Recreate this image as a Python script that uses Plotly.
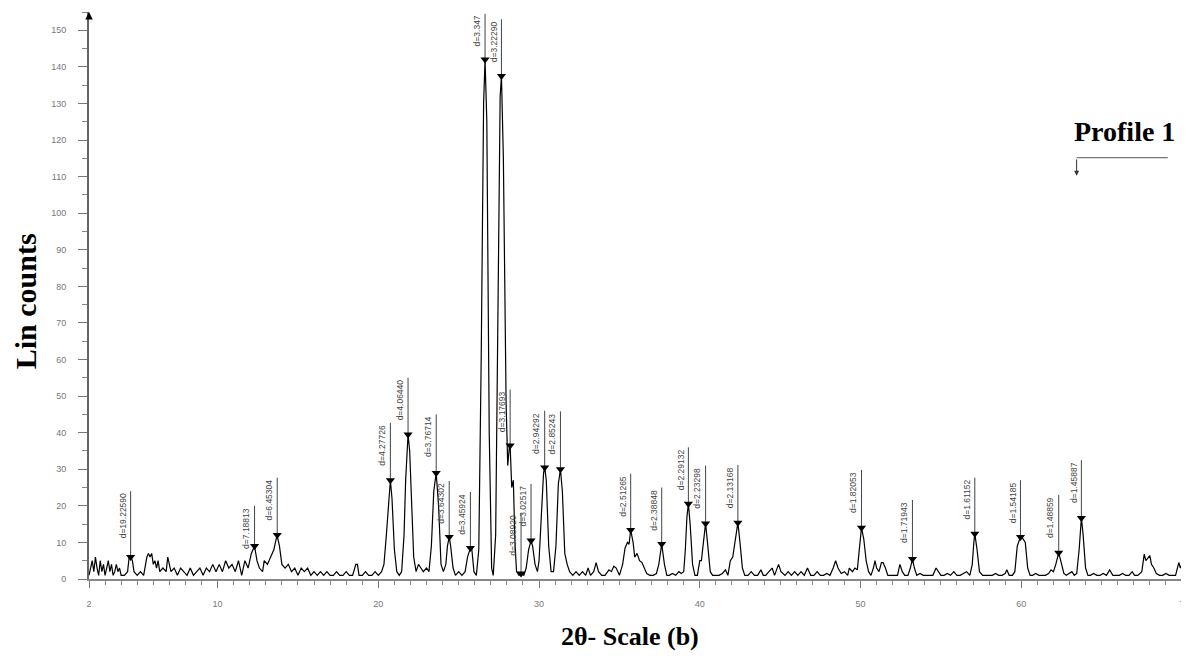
import plotly.graph_objects as go

# ---- diffraction trace (2-theta, counts) ----
two_theta = [
    2.0, 2.1, 2.2, 2.3, 2.4, 2.5, 2.6, 2.7, 2.8, 2.9, 3.0, 3.1, 3.2, 3.3, 3.4, 3.5, 3.6, 3.7, 3.8, 3.9,
    4.0, 4.2, 4.4, 4.5, 4.6, 4.7, 4.8, 5.0, 5.2, 5.4, 5.6, 5.7, 5.8, 5.9, 6.0, 6.1, 6.2, 6.3, 6.4, 6.6,
    6.8, 6.9, 7.0, 7.1, 7.3, 7.5, 7.7, 7.9, 8.1, 8.3, 8.5, 8.7, 8.9, 9.1, 9.3, 9.5, 9.7, 9.9, 10.1, 10.3,
    10.5, 10.7, 10.9, 11.1, 11.3, 11.5, 11.7, 11.9, 12.0, 12.1, 12.3, 12.45, 12.6, 12.8, 12.9, 13.1, 13.3, 13.5, 13.7, 13.85,
    14.0, 14.2, 14.4, 14.6, 14.8, 15.0, 15.2, 15.4, 15.6, 15.8, 16.0, 16.2, 16.4, 16.6, 16.8, 17.0, 17.2, 17.4, 17.6, 17.8,
    18.0, 18.2, 18.4, 18.6, 18.7, 18.8, 19.0, 19.2, 19.4, 19.6, 19.8, 20.0, 20.2, 20.35, 20.5, 20.65, 20.75, 20.85, 21.0, 21.15,
    21.3, 21.45, 21.6, 21.7, 21.8, 21.85, 21.95, 22.05, 22.2, 22.35, 22.5, 22.65, 22.8, 23.0, 23.15, 23.3, 23.45, 23.6, 23.75, 23.9,
    24.05, 24.2, 24.3, 24.41, 24.5, 24.65, 24.8, 25.0, 25.2, 25.4, 25.55, 25.73, 25.82, 25.95, 26.1, 26.25, 26.4, 26.55, 26.64, 26.75,
    26.9, 27.05, 27.15, 27.3, 27.45, 27.58, 27.66, 27.78, 27.95, 28.05, 28.15, 28.2, 28.3, 28.4, 28.5, 28.6, 28.75, 28.88, 29.05, 29.2,
    29.35, 29.5, 29.6, 29.75, 29.9, 30.0, 30.15, 30.28, 30.35, 30.45, 30.6, 30.75, 30.9, 31.05, 31.2, 31.33, 31.45, 31.6, 31.75, 31.9,
    32.1, 32.3, 32.5, 32.7, 32.9, 33.05, 33.2, 33.4, 33.55, 33.7, 33.9, 34.1, 34.35, 34.5, 34.65, 34.8, 35.0, 35.2, 35.35, 35.5,
    35.6, 35.7, 35.85, 35.95, 36.1, 36.25, 36.4, 36.55, 36.7, 36.9, 37.1, 37.3, 37.45, 37.63, 37.8, 37.95, 38.1, 38.3, 38.5, 38.7,
    38.85, 39.0, 39.1, 39.2, 39.29, 39.4, 39.55, 39.7, 39.85, 40.0, 40.1, 40.2, 40.3, 40.36, 40.5, 40.65, 40.8, 41.0, 41.2, 41.4,
    41.6, 41.75, 41.9, 42.05, 42.2, 42.37, 42.5, 42.65, 42.8, 43.0, 43.2, 43.4, 43.6, 43.8, 43.95, 44.1, 44.3, 44.5, 44.65, 44.9,
    45.05, 45.3, 45.5, 45.7, 45.9, 46.1, 46.3, 46.5, 46.7, 46.9, 47.1, 47.3, 47.5, 47.7, 47.9, 48.1, 48.3, 48.45, 48.6, 48.8,
    49.0, 49.2, 49.3, 49.5, 49.65, 49.8, 49.9, 50.0, 50.06, 50.2, 50.35, 50.5, 50.65, 50.8, 50.9, 51.0, 51.15, 51.3, 51.4, 51.55,
    51.7, 51.9, 52.1, 52.3, 52.45, 52.6, 52.75, 52.95, 53.1, 53.23, 53.35, 53.5, 53.7, 53.9, 54.1, 54.3, 54.5, 54.7, 54.85, 55.0,
    55.2, 55.4, 55.6, 55.8, 56.0, 56.2, 56.4, 56.6, 56.8, 56.95, 57.05, 57.11, 57.25, 57.4, 57.6, 57.8, 58.0, 58.2, 58.4, 58.6,
    58.8, 59.0, 59.1, 59.25, 59.45, 59.6, 59.75, 59.85, 59.95, 60.1, 60.25, 60.4, 60.55, 60.7, 60.9, 61.1, 61.3, 61.5, 61.7, 61.85,
    62.0, 62.15, 62.33, 62.5, 62.65, 62.8, 63.0, 63.15, 63.3, 63.45, 63.6, 63.74, 63.85, 64.0, 64.15, 64.3, 64.5, 64.7, 64.9, 65.1,
    65.3, 65.5, 65.7, 65.9, 66.1, 66.3, 66.5, 66.7, 66.9, 67.05, 67.25, 67.5, 67.65, 67.75, 67.85, 68.0, 68.1, 68.25, 68.4, 68.6,
    68.8, 69.0, 69.2, 69.4, 69.6, 69.8, 69.9, 70.0,
]
counts = [
    1, 3, 5, 2, 6, 3, 1, 5, 2, 4, 1, 3, 5, 2, 4, 1, 2, 4, 2, 3,
    1, 1, 2, 6, 6, 5, 2, 1, 2, 1, 6, 7, 6, 7, 4, 5, 3, 5, 2, 3,
    2, 6, 4, 2, 3, 1, 3, 2, 1, 3, 1, 2, 3, 1, 3, 2, 4, 2, 4, 2,
    5, 3, 4, 2, 5, 1, 5, 3, 5, 7, 9, 5, 3, 2, 5, 4, 6, 8, 12, 9,
    4, 3, 4, 2, 3, 1, 3, 2, 3, 1, 2, 1, 2, 1, 2, 1, 1, 2, 1, 1,
    2, 1, 1, 4, 4, 1, 1, 2, 1, 1, 2, 1, 2, 4, 12, 23, 27, 22, 8, 2,
    1, 2, 12, 27, 37, 39.5, 35, 24, 6, 2, 4, 3, 2, 3, 2, 9, 24, 29, 20, 4,
    2, 4, 9, 11.5, 9, 3, 1, 2, 1, 2, 6, 8.5, 8, 2, 1, 8, 60, 130, 142, 125,
    40, 3, 1, 12, 70, 132, 137.5, 115, 48, 31, 36, 36.5, 25, 27, 10, 2, 1, 1.5, 1, 3,
    8, 10.5, 9, 4, 2, 5, 18, 29, 30.5, 27, 9, 2, 2, 9, 26, 30, 24, 7, 4, 2,
    1, 2, 1, 2, 1, 3, 1, 2, 4.5, 2, 1, 1, 2.5, 2, 3.5, 3, 1, 4, 8.5, 10,
    9.5, 13.4, 10, 6, 7, 5, 4.5, 3, 1.5, 1, 1, 1.5, 4, 9.6, 4, 1, 1, 1.5, 1, 2,
    1.5, 2, 8, 17, 20.6, 15, 4, 1, 1, 5, 5, 9, 14, 15.2, 9, 2, 1, 1, 1, 1.5,
    2.5, 1, 5, 6, 10, 15.4, 10, 3, 1, 1, 2, 1, 1, 2.5, 1, 1, 2, 3, 1, 4,
    2, 1, 2, 1, 2, 1, 2, 1, 3, 1, 1, 2, 1, 1, 1.5, 1, 3, 5, 3, 1.5,
    2, 1, 3, 2, 3, 2.5, 7, 12, 14, 11, 5, 2, 1, 3, 5, 3, 2, 4.5, 4.5, 3,
    1, 1, 1, 1, 4, 2, 1, 1, 3, 5.5, 3, 1, 1.5, 1, 1, 1, 1, 3, 2, 1,
    1, 1.5, 1, 2, 1, 1, 1.5, 2, 1, 4, 10, 12.4, 8, 2, 1, 1, 1, 1, 1.5, 1,
    1, 1.5, 2.5, 1, 1, 2, 9, 10, 11.5, 11, 10, 3, 1, 1, 1.5, 1, 1, 1, 1.5, 2.5,
    2, 4, 7.2, 4, 1.5, 1, 1.5, 2, 1, 1.5, 8, 16.7, 12, 3, 1, 1, 1.5, 1, 1, 1.5,
    1, 2.5, 1, 1, 1, 1.5, 1, 1, 2, 1, 1, 2, 6.8, 5, 5.5, 6.4, 4, 3, 1.5, 1,
    1, 1.5, 1, 1, 1, 4.5, 3, 4,
]

# ---- labelled peaks ----
peak_two_theta = [4.59, 12.30, 13.71, 20.75, 21.85, 23.60, 24.41, 25.73, 26.64, 27.66, 28.20, 28.88, 29.50,
                  30.35, 31.33, 35.70, 37.63, 39.29, 40.36, 42.37, 50.06, 53.23, 57.11, 59.95, 62.33, 63.74]
peak_counts = [6, 9, 12, 27, 39.5, 29, 11.5, 8.5, 142, 137.5, 36.5, 1.5, 10.5,
               30.5, 30, 13.4, 9.6, 20.6, 15.2, 15.4, 14, 5.5, 12.4, 11.5, 7.2, 16.7]
label_top = [24, 20, 27.7, 42.7, 55, 45, 26.8, 23.8, 154.5, 153, 51.8, 18, 26,
             46, 45.8, 28.8, 25, 36, 31, 31.2, 29.8, 21.6, 27.7, 27, 23, 32.5]
peak_labels = ["d=19.22590", "d=7.18813", "d=6.45304", "d=4.27726", "d=4.06440", "d=3.76714",
               "d=3.64302", "d=3.45924", "d=3.347", "d=3.22290", "d=3.17693", "d=3.08920",
               "d=3.02517", "d=2.94292", "d=2.85243", "d=2.51265", "d=2.38848", "d=2.29132",
               "d=2.23298", "d=2.13168", "d=1.82053", "d=1.71943", "d=1.61152", "d=1.54185",
               "d=1.48859", "d=1.45887"]

x_tick_vals = [2, 10, 20, 30, 40, 50, 60, 70]
x_tick_text = ["2", "10", "20", "30", "40", "50", "60", "7"]
y_tick_vals = list(range(0, 151, 10))

SERIF = "Liberation Serif, Times New Roman, serif"
SANS = "Liberation Sans, Arial, sans-serif"

fig = go.Figure()

# vertical label lines
lx, ly = [], []
for xv, yv, tv in zip(peak_two_theta, peak_counts, label_top):
    lx += [xv, xv, None]
    ly += [yv, tv, None]
fig.add_trace(go.Scatter(x=lx, y=ly, mode="lines", line=dict(color="#444", width=1),
                         hoverinfo="skip", showlegend=False, cliponaxis=False))

fig.add_trace(go.Scatter(x=two_theta, y=counts, mode="lines",
                         line=dict(color="black", width=1.2), showlegend=False))

fig.add_trace(go.Scatter(x=peak_two_theta, y=peak_counts, mode="markers",
                         marker=dict(symbol="triangle-down", size=8, color="black"),
                         showlegend=False, cliponaxis=False))

for xv, tv, txt in zip(peak_two_theta, label_top, peak_labels):
    fig.add_annotation(x=xv, y=tv, text=txt, textangle=-90, showarrow=False,
                       xanchor="right", yanchor="top", xshift=-1,
                       font=dict(family=SANS, size=8.5, color="#444"))

# titles and note
fig.add_annotation(xref="paper", yref="paper", x=-0.0585, y=0.49, text="Lin counts",
                   textangle=-90, showarrow=False, xanchor="center", yanchor="middle",
                   font=dict(family=SERIF, size=30, color="black", weight="bold"))
fig.add_annotation(xref="paper", yref="paper", x=0.495, y=-0.102, text="2θ- Scale (b)",
                   showarrow=False, xanchor="center", yanchor="middle",
                   font=dict(family=SERIF, size=26, color="black", weight="bold"))
fig.add_annotation(xref="paper", yref="paper", x=0.9475, y=0.79, text="Profile 1",
                   showarrow=False, xanchor="center", yanchor="middle",
                   font=dict(family=SERIF, size=28, color="black", weight="bold"))
fig.add_shape(type="line", xref="paper", yref="paper", x0=0.9036, x1=0.987, y0=0.743, y1=0.743,
              line=dict(color="#555", width=1))
fig.add_annotation(xref="paper", yref="paper", x=0.9036, y=0.711, ax=0, ay=-18, text="",
                   showarrow=True, arrowhead=2, arrowsize=1, arrowwidth=1, arrowcolor="#333")
# y axis arrow head
fig.add_annotation(xref="paper", yref="paper", x=0, y=1, ax=0, ay=8, text="",
                   showarrow=True, arrowhead=2, arrowsize=1, arrowwidth=1.5, arrowcolor="black")

fig.update_layout(
    width=1181, height=656,
    margin=dict(l=81, r=7, t=4, b=85),
    paper_bgcolor="white", plot_bgcolor="white",
    xaxis=dict(range=[2, 70], tickvals=x_tick_vals, ticktext=x_tick_text,
               ticks="outside", ticklen=7, tickwidth=1, tickcolor="#777",
               minor=dict(dtick=1, tick0=0, ticks="outside", ticklen=4, tickcolor="#888"),
               showgrid=False, zeroline=False, showline=True, linecolor="#888", linewidth=1.5,
               tickfont=dict(family=SANS, size=9, color="#777"), ticklabelstandoff=8,
               ticklabeloverflow="allow"),
    yaxis=dict(range=[0, 155], tickvals=y_tick_vals,
               ticks="outside", ticklen=9, tickwidth=1, tickcolor="#777",
               minor=dict(dtick=5, tick0=0, ticks="outside", ticklen=5, tickcolor="#888"),
               showgrid=False, zeroline=False, showline=True, linecolor="#666", linewidth=2,
               tickfont=dict(family=SANS, size=9, color="#777"), ticklabelstandoff=10),
)

fig.write_html("out.html")
